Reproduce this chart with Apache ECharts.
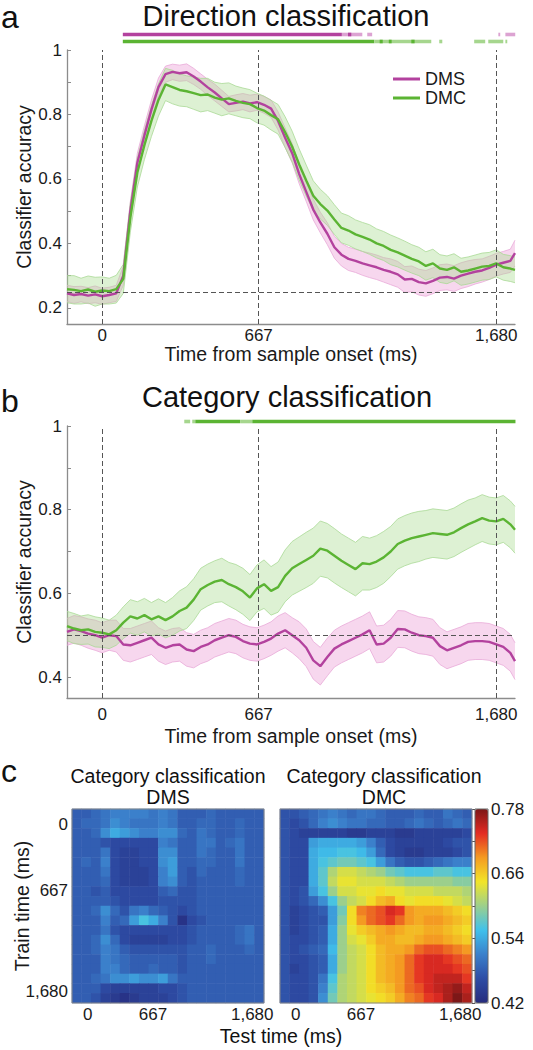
<!DOCTYPE html>
<html><head><meta charset="utf-8">
<script src="https://cdn.jsdelivr.net/npm/echarts@6/dist/echarts.min.js"></script>
<style>html,body{margin:0;padding:0;background:#fff}#c{width:533px;height:1050px}</style>
</head><body><div id="c"></div>
<script>
// ---------- DATA ----------
const timesMs = [-150,-120,-90,-60,-30,0,30,60,90,120,150,180,210,240,270,300,330,360,390,420,450,480,510,540,570,600,630,660,690,720,750,780,810,840,870,900,930,960,990,1020,1050,1080,1110,1140,1170,1200,1230,1260,1290,1320,1350,1380,1410,1440,1470,1500,1530,1560,1590,1620,1650,1680,1710,1740,1760];

// Direction classification (panel a)
const dirDMS = [0.245,0.240,0.243,0.238,0.242,0.236,0.240,0.245,0.300,0.500,
 0.650,0.735,0.815,0.885,0.925,0.932,0.928,0.931,0.918,0.902,
 0.884,0.868,0.850,0.832,0.836,0.840,0.834,0.838,0.830,0.818,
 0.780,0.728,0.680,0.615,0.560,0.505,0.465,0.430,0.388,0.365,
 0.352,0.346,0.338,0.332,0.326,0.318,0.312,0.304,0.288,0.290,
 0.280,0.276,0.284,0.294,0.296,0.291,0.300,0.306,0.312,0.316,
 0.324,0.334,0.340,0.346,0.370];
const dirDMSerr = [0.025,0.026,0.024,0.025,0.026,0.025,0.024,0.025,0.030,0.030,
 0.030,0.030,0.030,0.028,0.025,0.024,0.025,0.026,0.025,0.024,
 0.025,0.026,0.025,0.024,0.025,0.025,0.026,0.025,0.026,0.027,
 0.028,0.030,0.030,0.030,0.030,0.032,0.032,0.034,0.034,0.035,
 0.036,0.036,0.037,0.038,0.038,0.038,0.040,0.040,0.040,0.040,
 0.040,0.040,0.040,0.040,0.040,0.040,0.040,0.040,0.038,0.036,
 0.036,0.035,0.035,0.036,0.040];
const dirDMC = [0.258,0.256,0.252,0.257,0.250,0.254,0.252,0.258,0.290,0.480,
 0.620,0.705,0.780,0.845,0.893,0.885,0.876,0.872,0.866,0.860,
 0.862,0.852,0.846,0.850,0.842,0.836,0.832,0.820,0.812,0.798,
 0.785,0.745,0.700,0.645,0.595,0.548,0.522,0.502,0.474,0.448,
 0.440,0.428,0.420,0.412,0.400,0.392,0.380,0.372,0.362,0.352,
 0.344,0.330,0.338,0.322,0.318,0.326,0.312,0.316,0.322,0.328,
 0.330,0.338,0.326,0.322,0.318];
const dirDMCerr = [0.042,0.044,0.040,0.042,0.045,0.042,0.040,0.043,0.045,0.045,
 0.045,0.045,0.048,0.050,0.050,0.052,0.050,0.048,0.050,0.052,
 0.050,0.048,0.050,0.048,0.046,0.046,0.045,0.046,0.045,0.046,
 0.046,0.048,0.048,0.048,0.048,0.046,0.046,0.046,0.046,0.046,
 0.046,0.045,0.045,0.046,0.045,0.045,0.046,0.045,0.045,0.044,
 0.044,0.044,0.044,0.043,0.043,0.042,0.042,0.042,0.042,0.042,
 0.042,0.042,0.040,0.040,0.040];

// Category classification (panel b)
const catDMC = [0.522,0.516,0.512,0.514,0.508,0.506,0.502,0.512,0.530,0.545,
 0.540,0.548,0.538,0.545,0.536,0.545,0.558,0.566,0.585,0.610,
 0.620,0.628,0.632,0.622,0.615,0.605,0.590,0.612,0.622,0.606,
 0.615,0.642,0.660,0.670,0.680,0.690,0.707,0.702,0.690,0.678,
 0.668,0.658,0.672,0.670,0.676,0.686,0.700,0.718,0.726,0.732,
 0.736,0.740,0.744,0.742,0.740,0.746,0.756,0.765,0.772,0.780,
 0.774,0.772,0.778,0.765,0.752];
const catDMCerr = [0.035,0.036,0.034,0.035,0.036,0.035,0.034,0.036,0.038,0.040,
 0.040,0.040,0.040,0.042,0.042,0.045,0.048,0.050,0.050,0.050,
 0.050,0.050,0.052,0.052,0.054,0.055,0.055,0.056,0.058,0.058,
 0.060,0.062,0.064,0.065,0.066,0.066,0.066,0.065,0.065,0.064,
 0.064,0.064,0.064,0.062,0.062,0.062,0.060,0.060,0.060,0.060,
 0.060,0.058,0.058,0.058,0.058,0.058,0.058,0.058,0.056,0.056,
 0.056,0.056,0.056,0.056,0.056];
const catDMS = [0.508,0.514,0.510,0.504,0.500,0.494,0.500,0.498,0.478,0.476,
 0.482,0.488,0.494,0.478,0.470,0.476,0.478,0.466,0.462,0.472,
 0.478,0.488,0.494,0.500,0.496,0.486,0.480,0.478,0.484,0.492,
 0.504,0.512,0.500,0.488,0.470,0.440,0.426,0.448,0.468,0.478,
 0.486,0.494,0.502,0.512,0.478,0.480,0.494,0.515,0.514,0.506,
 0.500,0.498,0.494,0.474,0.464,0.470,0.476,0.484,0.486,0.486,
 0.484,0.478,0.472,0.458,0.438];
const catDMSerr = [0.032,0.033,0.034,0.035,0.036,0.036,0.036,0.038,0.038,0.040,
 0.040,0.040,0.040,0.040,0.040,0.040,0.040,0.040,0.040,0.040,
 0.040,0.040,0.040,0.040,0.040,0.040,0.040,0.040,0.040,0.040,
 0.042,0.042,0.042,0.044,0.045,0.045,0.045,0.045,0.044,0.044,
 0.044,0.044,0.044,0.044,0.044,0.044,0.044,0.044,0.044,0.044,
 0.044,0.044,0.044,0.044,0.044,0.044,0.044,0.044,0.044,0.044,
 0.044,0.044,0.044,0.044,0.044];

// Significance bars: [start ms, end ms, strong(1)/weak(0)]
const sigDirDMS = [[88,1022,1],[1022,1109,0],[1048,1062,1],[1130,1151,0],[1689,1697,0],[1719,1761,0]];
const sigDirDMC = [[88,1160,1],[1160,1403,0],[1183,1196,1],[1222,1234,1],[1318,1332,1],[1437,1450,0],[1586,1633,0],[1646,1710,0],[1719,1727,0]];
const sigCatDMC = [[350,375,0],[384,397,0],[397,588,1],[588,640,0],[640,1762,1]];

// Tick values
const timeTicks = [0, 667, 1680];
const dirYTicks = [0.2,0.3,0.4,0.5,0.6,0.7,0.8,0.9,1];
const dirYLabels = [0.2,0.4,0.6,0.8,1];
const catYTicks = [0.4,0.5,0.6,0.7,0.8,0.9,1];
const catYLabels = [0.4,0.6,0.8,1];
const cbTicks = [0.42,0.48,0.54,0.60,0.66,0.72,0.78];
const cbLabels = [0.42,0.54,0.66,0.78];

// Temporal generalization (panel c): cell centres (ms), rows = train time, cols = test time
const heatTimes = [-111,-13,85,183,281,379,477,575,673,771,869,967,1065,1163,1261,1359,1457,1555,1653,1751];
const gridDMS = [
 [0.48,0.48,0.49,0.50,0.51,0.51,0.51,0.51,0.50,0.51,0.50,0.48,0.48,0.48,0.49,0.48,0.48,0.48,0.48,0.48],
 [0.48,0.49,0.49,0.50,0.52,0.51,0.50,0.50,0.50,0.51,0.50,0.48,0.48,0.49,0.49,0.48,0.48,0.49,0.48,0.48],
 [0.48,0.48,0.49,0.52,0.54,0.53,0.52,0.51,0.51,0.52,0.52,0.49,0.48,0.50,0.49,0.48,0.48,0.49,0.48,0.48],
 [0.48,0.48,0.48,0.47,0.46,0.46,0.46,0.46,0.46,0.51,0.50,0.48,0.48,0.50,0.50,0.48,0.49,0.50,0.48,0.48],
 [0.48,0.48,0.48,0.50,0.46,0.45,0.45,0.46,0.46,0.52,0.52,0.48,0.48,0.50,0.49,0.48,0.48,0.50,0.48,0.48],
 [0.48,0.49,0.48,0.51,0.46,0.45,0.45,0.46,0.46,0.52,0.53,0.48,0.48,0.49,0.49,0.48,0.48,0.50,0.48,0.48],
 [0.48,0.48,0.48,0.50,0.46,0.45,0.45,0.45,0.46,0.51,0.53,0.48,0.47,0.49,0.48,0.48,0.48,0.49,0.48,0.48],
 [0.48,0.48,0.48,0.49,0.46,0.45,0.45,0.45,0.46,0.51,0.52,0.48,0.47,0.48,0.48,0.48,0.48,0.49,0.48,0.48],
 [0.48,0.48,0.47,0.48,0.46,0.46,0.46,0.46,0.46,0.48,0.49,0.47,0.47,0.48,0.48,0.48,0.48,0.48,0.48,0.48],
 [0.48,0.48,0.48,0.48,0.47,0.46,0.46,0.46,0.46,0.47,0.47,0.47,0.47,0.48,0.48,0.48,0.48,0.48,0.48,0.48],
 [0.48,0.48,0.49,0.52,0.49,0.47,0.50,0.51,0.49,0.48,0.47,0.46,0.47,0.48,0.48,0.48,0.48,0.48,0.48,0.48],
 [0.48,0.48,0.48,0.51,0.48,0.49,0.53,0.56,0.54,0.51,0.47,0.43,0.46,0.47,0.48,0.48,0.48,0.48,0.48,0.48],
 [0.48,0.48,0.48,0.50,0.47,0.46,0.46,0.46,0.46,0.46,0.46,0.46,0.47,0.48,0.48,0.48,0.48,0.49,0.50,0.48],
 [0.48,0.48,0.49,0.52,0.49,0.46,0.45,0.45,0.45,0.45,0.46,0.46,0.47,0.48,0.48,0.48,0.48,0.49,0.50,0.48],
 [0.48,0.48,0.49,0.51,0.50,0.48,0.47,0.47,0.47,0.47,0.47,0.47,0.48,0.48,0.49,0.48,0.48,0.48,0.49,0.48],
 [0.48,0.48,0.48,0.51,0.50,0.49,0.48,0.48,0.48,0.48,0.48,0.47,0.48,0.48,0.49,0.48,0.48,0.48,0.48,0.48],
 [0.48,0.48,0.48,0.51,0.51,0.49,0.48,0.48,0.49,0.48,0.48,0.47,0.48,0.48,0.48,0.48,0.48,0.48,0.48,0.48],
 [0.48,0.48,0.49,0.50,0.52,0.52,0.53,0.52,0.52,0.53,0.50,0.48,0.48,0.48,0.48,0.48,0.48,0.48,0.48,0.48],
 [0.48,0.48,0.48,0.46,0.45,0.45,0.45,0.45,0.45,0.46,0.46,0.47,0.48,0.48,0.48,0.48,0.48,0.48,0.48,0.48],
 [0.48,0.48,0.47,0.45,0.44,0.43,0.44,0.45,0.45,0.45,0.46,0.47,0.48,0.48,0.48,0.48,0.48,0.48,0.48,0.48]
];
const gridDMC = [
 [0.47,0.47,0.48,0.49,0.50,0.51,0.50,0.49,0.50,0.50,0.49,0.48,0.48,0.48,0.49,0.48,0.48,0.50,0.49,0.48],
 [0.47,0.46,0.47,0.49,0.51,0.52,0.51,0.50,0.50,0.49,0.49,0.48,0.48,0.49,0.50,0.49,0.48,0.49,0.50,0.49],
 [0.47,0.46,0.45,0.45,0.45,0.45,0.45,0.44,0.44,0.45,0.45,0.45,0.44,0.44,0.45,0.45,0.45,0.45,0.45,0.46],
 [0.47,0.46,0.46,0.53,0.54,0.54,0.54,0.54,0.53,0.51,0.48,0.46,0.45,0.45,0.45,0.45,0.45,0.46,0.47,0.47],
 [0.47,0.46,0.46,0.54,0.55,0.55,0.56,0.56,0.55,0.53,0.49,0.46,0.45,0.44,0.44,0.45,0.45,0.45,0.46,0.47],
 [0.47,0.46,0.46,0.54,0.56,0.57,0.58,0.58,0.57,0.56,0.53,0.50,0.48,0.47,0.47,0.48,0.49,0.50,0.51,0.51],
 [0.47,0.46,0.46,0.54,0.57,0.61,0.63,0.63,0.62,0.61,0.60,0.58,0.57,0.56,0.56,0.56,0.57,0.57,0.56,0.56],
 [0.47,0.46,0.46,0.54,0.57,0.62,0.64,0.64,0.63,0.63,0.63,0.62,0.61,0.60,0.60,0.60,0.60,0.60,0.59,0.59],
 [0.47,0.46,0.47,0.53,0.56,0.60,0.63,0.63,0.64,0.64,0.65,0.64,0.64,0.63,0.63,0.63,0.62,0.62,0.62,0.61],
 [0.47,0.46,0.47,0.49,0.52,0.56,0.60,0.62,0.63,0.65,0.67,0.68,0.65,0.64,0.65,0.65,0.65,0.64,0.63,0.62],
 [0.47,0.45,0.46,0.47,0.48,0.53,0.58,0.65,0.70,0.71,0.72,0.74,0.73,0.69,0.68,0.68,0.68,0.67,0.66,0.65],
 [0.47,0.45,0.46,0.47,0.47,0.53,0.59,0.65,0.69,0.71,0.72,0.73,0.71,0.69,0.68,0.69,0.69,0.68,0.67,0.66],
 [0.47,0.45,0.46,0.47,0.48,0.54,0.60,0.64,0.66,0.67,0.68,0.69,0.68,0.67,0.67,0.68,0.68,0.67,0.66,0.65],
 [0.47,0.46,0.46,0.47,0.48,0.54,0.60,0.63,0.64,0.66,0.68,0.68,0.67,0.67,0.68,0.69,0.69,0.68,0.67,0.66],
 [0.47,0.46,0.47,0.48,0.49,0.55,0.60,0.62,0.63,0.65,0.67,0.68,0.68,0.69,0.71,0.72,0.72,0.71,0.70,0.69],
 [0.47,0.46,0.46,0.47,0.48,0.54,0.60,0.62,0.63,0.65,0.67,0.68,0.69,0.71,0.73,0.74,0.74,0.73,0.72,0.71],
 [0.47,0.45,0.46,0.47,0.48,0.54,0.60,0.62,0.63,0.65,0.67,0.68,0.69,0.71,0.73,0.74,0.74,0.74,0.73,0.72],
 [0.47,0.46,0.46,0.47,0.50,0.56,0.61,0.62,0.63,0.65,0.67,0.68,0.69,0.71,0.73,0.74,0.75,0.75,0.75,0.73],
 [0.47,0.46,0.46,0.47,0.51,0.57,0.61,0.62,0.63,0.65,0.66,0.67,0.69,0.71,0.72,0.74,0.75,0.76,0.77,0.75],
 [0.47,0.46,0.46,0.47,0.52,0.58,0.61,0.62,0.63,0.64,0.65,0.66,0.68,0.70,0.71,0.73,0.74,0.76,0.78,0.76]
];

// ---------- STYLE ----------
const FONT = '"Liberation Sans", Arial, Helvetica, sans-serif';
const TXT = '#1a1a1a';
const AX = '#8c8c8c';
const MAG = '#b3429e', MAG_FILL = 'rgba(236,160,215,0.42)', MAG_EDGE = '#e8a9d8', MAG_LIGHT = '#dca3d2';
const GRN = '#5bb433', GRN_FILL = 'rgba(170,220,145,0.40)', GRN_EDGE = '#a9d995', GRN_LIGHT = '#a6d68e';
const JET = ['#262c7e','#2e4da5','#3b80cb','#3fc1ec','#9ccf8c','#f2e528','#f49a22','#e32b23','#7d1717'];
const LBL = 17, NAME = 19.5;

const fmtTime = v => Number(v).toLocaleString('en-US');
const fmtAcc = v => Math.abs(v - 1) < 1e-9 ? '1' : Number(v).toFixed(1);

function bandSeries(xi, yi, mean, err, fill, edge) {
  const data = timesMs.map((t,i)=>[t, mean[i]-err[i], mean[i]+err[i]]);
  return { type:'custom', xAxisIndex:xi, yAxisIndex:yi, silent:true, data, encode:{x:0, y:[1,2]},
    renderItem:(params, api) => {
      if (params.dataIndexInside !== 0) return null;
      const n = params.dataInsideLength;
      const lo = [], hi = [];
      for (let j = 0; j < n; j++) {
        lo.push(api.coord([api.value(0, j), api.value(1, j)]));
        hi.push(api.coord([api.value(0, j), api.value(2, j)]));
      }
      return { type:'group', children:[
        { type:'polygon', shape:{points: lo.concat(hi.slice().reverse())}, style:{fill, stroke:null} },
        { type:'polyline', shape:{points: lo}, style:{stroke:edge, lineWidth:0.8, fill:null} },
        { type:'polyline', shape:{points: hi}, style:{stroke:edge, lineWidth:0.8, fill:null} }
      ]};
    } };
}
function meanLine(name, xi, yi, mean, color, extra) {
  return Object.assign({ name, type:'line', xAxisIndex:xi, yAxisIndex:yi, symbol:'none', silent:true,
    lineStyle:{width:2.4, color}, itemStyle:{color},
    data: timesMs.map((t,i)=>[t, mean[i]]) }, extra || {});
}
function refLines(yRef) {
  return { silent:true, symbol:'none', label:{show:false},
    lineStyle:{type:[5,3], color:'#555', width:1},
    data:[{xAxis:0},{xAxis:667},{xAxis:1680},{yAxis:yRef}] };
}
function sigSeries(xi, yi, segs, rowY, solid, light) {
  return { type:'custom', xAxisIndex:xi, yAxisIndex:yi, silent:true,
    encode:{x:[0,1]}, data: segs,
    renderItem:(params, api) => {
      const s = api.coord([api.value(0), rowY]);
      const e = api.coord([api.value(1), rowY]);
      return { type:'rect', shape:{x:s[0], y:s[1]-1.8, width:e[0]-s[0], height:3.6},
        style:{fill: api.value(2) ? solid : light} };
    } };
}
function timeAxis(gi, margin, nameGap, name) {
  return { gridIndex:gi, type:'value', min:-150, max:1760,
    axisLine:{show:true, onZero:false, lineStyle:{color:AX, width:1.3}},
    axisTick:{show:false}, splitLine:{show:false},
    axisLabel:{customValues:timeTicks, formatter:fmtTime, fontSize:LBL, color:TXT, margin, fontFamily:FONT},
    name, nameLocation:'middle', nameGap, nameMoveOverlap:false,
    nameTextStyle:{fontSize:NAME, color:TXT, fontFamily:FONT} };
}
function accAxis(gi, min, ticks, labels) {
  return { gridIndex:gi, type:'value', min, max:1,
    axisLine:{show:true, onZero:false, lineStyle:{color:AX, width:1.3}},
    axisTick:{show:true, inside:true, length:4, customValues:ticks, lineStyle:{color:AX}},
    splitLine:{show:false},
    axisLabel:{customValues:labels, formatter:fmtAcc, fontSize:LBL, color:TXT, margin:5, fontFamily:FONT},
    name:'Classifier accuracy', nameLocation:'middle', nameGap:33, nameRotate:90, nameMoveOverlap:false,
    nameTextStyle:{fontSize:NAME, color:TXT, fontFamily:FONT} };
}
const hidden = (gi, extra) => Object.assign({gridIndex:gi, type:'value', show:false, min:0, max:16, inverse:true}, extra||{});
const heatData = g => { const d=[]; g.forEach((row,r)=>row.forEach((v,c)=>d.push([c,r,v]))); return d; };

// ---------- OPTION ----------
const grids = [
  {left:67, top:50, width:448, height:274},          // 0 panel a
  {left:67, top:26, width:448, height:16},           // 1 sig a
  {left:67, top:426, width:448, height:272},         // 2 panel b
  {left:67, top:413, width:448, height:16},          // 3 sig b
  {left:72, top:809, width:192, height:194, show:true, borderColor:'#888', borderWidth:1, z:10}, // 4 heat DMS
  {left:280, top:809, width:192, height:194, show:true, borderColor:'#888', borderWidth:1, z:10}, // 5 heat DMC
  {left:475, top:809, width:13, height:194, show:true, borderColor:'#666', borderWidth:1, z:10}   // 6 colorbar
];

const heatValX = (gi) => ({ gridIndex:gi, type:'value', min:-160, max:1800, position:'bottom',
  axisLine:{show:false}, axisTick:{show:true, inside:true, length:3, customValues:timeTicks, lineStyle:{color:'#666'}},
  splitLine:{show:false},
  axisLabel:{customValues:timeTicks, formatter:fmtTime, fontSize:LBL, color:TXT, margin:3, fontFamily:FONT} });
const heatValY = (gi, labels) => ({ gridIndex:gi, type:'value', min:-160, max:1800, inverse:true, position:'left',
  axisLine:{show:false}, axisTick:{show:true, inside:true, length:3, customValues:timeTicks, lineStyle:{color:'#666'}},
  splitLine:{show:false},
  axisLabel:{show:labels, customValues:timeTicks, formatter:fmtTime, fontSize:LBL, color:TXT, margin:4, fontFamily:FONT},
  name: labels ? 'Train time (ms)' : '', nameLocation:'middle', nameGap:40, nameRotate:90, nameMoveOverlap:false,
  nameTextStyle:{fontSize:NAME, color:TXT, fontFamily:FONT} });

const xAxes = [
  timeAxis(0, 3, 20, 'Time from sample onset (ms)'),
  Object.assign(hidden(1), {min:-150, max:1760, inverse:false}),
  timeAxis(2, 8, 28, 'Time from sample onset (ms)'),
  Object.assign(hidden(3), {min:-150, max:1760, inverse:false}),
  {gridIndex:4, type:'category', data:heatTimes.map(String), show:false},
  heatValX(4),
  {gridIndex:5, type:'category', data:heatTimes.map(String), show:false},
  heatValX(5),
  {gridIndex:6, type:'value', show:false, min:0, max:1}
];
const yAxes = [
  accAxis(0, 0.15, dirYTicks, dirYLabels),
  hidden(1),
  accAxis(2, 0.35, catYTicks, catYLabels),
  hidden(3),
  {gridIndex:4, type:'category', data:heatTimes.map(String), show:false, inverse:true},
  heatValY(4, true),
  {gridIndex:5, type:'category', data:heatTimes.map(String), show:false, inverse:true},
  heatValY(5, false),
  {gridIndex:6, type:'value', min:0.42, max:0.78, position:'right',
   axisLine:{show:false}, splitLine:{show:false},
   axisTick:{show:true, inside:true, length:3, customValues:cbTicks, lineStyle:{color:'#555'}},
   axisLabel:{customValues:cbLabels, formatter:v=>Number(v).toFixed(2), fontSize:LBL, color:TXT, margin:3, fontFamily:FONT}}
];

const series = [];
series.push(bandSeries(0, 0, dirDMS, dirDMSerr, MAG_FILL, MAG_EDGE));
series.push(bandSeries(0, 0, dirDMC, dirDMCerr, GRN_FILL, GRN_EDGE));
series.push(meanLine('DMS', 0, 0, dirDMS, MAG));
series.push(meanLine('DMC', 0, 0, dirDMC, GRN, {markLine: refLines(0.25)}));
series.push(sigSeries(1, 1, sigDirDMS, 8.5, MAG, MAG_LIGHT));
series.push(sigSeries(1, 1, sigDirDMC, 15.5, GRN, GRN_LIGHT));
series.push(bandSeries(2, 2, catDMS, catDMSerr, MAG_FILL, MAG_EDGE));
series.push(bandSeries(2, 2, catDMC, catDMCerr, GRN_FILL, GRN_EDGE));
series.push(meanLine('DMS', 2, 2, catDMS, MAG));
series.push(meanLine('DMC', 2, 2, catDMC, GRN, {markLine: refLines(0.5)}));
series.push(sigSeries(3, 3, sigCatDMC, 8.5, GRN, GRN_LIGHT));
const heatIdx = [series.length, series.length + 1];
series.push({type:'heatmap', xAxisIndex:4, yAxisIndex:4, data:heatData(gridDMS), silent:true, itemStyle:{borderWidth:0}});
series.push({type:'heatmap', xAxisIndex:6, yAxisIndex:6, data:heatData(gridDMC), silent:true, itemStyle:{borderWidth:0}});

const txt = (text, x, y, size, align) => ({type:'text', x, y, silent:true,
  style:{text, fontSize:size, fontFamily:FONT, fill:'#111', align:align||'center', verticalAlign:'middle'}});

const option = {
  animation:false,
  textStyle:{fontFamily:FONT},
  grid:grids, xAxis:xAxes, yAxis:yAxes,
  legend:{data:['DMS','DMC'], orient:'vertical', left:388, top:65, icon:'rect', itemWidth:27, itemHeight:3, itemGap:1,
    textStyle:{fontSize:18, color:TXT, fontFamily:FONT}, selectedMode:false},
  visualMap:{type:'continuous', min:0.42, max:0.78, seriesIndex:heatIdx, dimension:2,
    left:475, top:809, itemWidth:13, itemHeight:194, padding:0, calculable:false, showLabel:false, text:null,
    hoverLink:false, inRange:{color:JET}},
  graphic:[
    txt('a', 1, 17, 32, 'left'),
    txt('Direction classification', 286, 16, 29),
    txt('b', 1, 401, 32, 'left'),
    txt('Category classification', 287, 397, 29),
    txt('c', 1, 771, 32, 'left'),
    txt('Category classification', 168, 776, NAME),
    txt('DMS', 168, 797, NAME),
    txt('Category classification', 384, 776, NAME),
    txt('DMC', 384, 797, NAME),
    txt('Test time (ms)', 281, 1036, NAME)
  ],
  series
};
const chart = echarts.init(document.getElementById('c'), null, {renderer:'svg', width:533, height:1050});
chart.setOption(option);
</script></body></html>
